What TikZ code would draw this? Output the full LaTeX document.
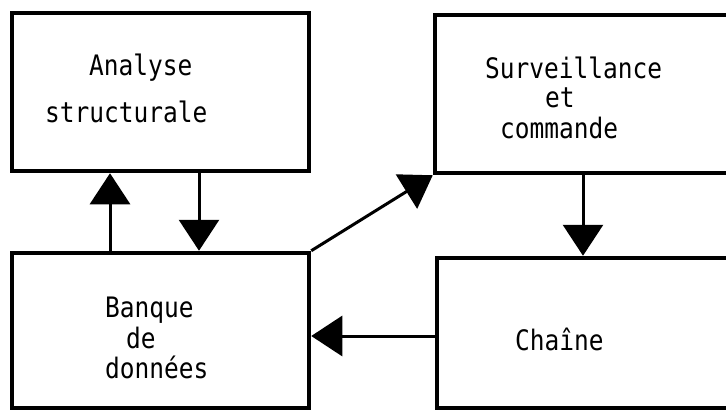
\documentclass[tikz,border=0pt]{standalone}
\usepackage{fontspec}
\setmonofont{DejaVu Sans Mono}
\usetikzlibrary{arrows.meta}
\begin{document}
\begin{tikzpicture}[x=1pt,y=-1pt,
  box/.style={draw,line width=4.5pt,minimum width=#1,inner sep=0pt},
  lbl/.style={anchor=base west,inner sep=0pt,font=\ttfamily\fontsize{24.5}{28}\selectfont},
  conn/.style={line width=3pt,-{Triangle[length=31pt,width=40pt]}}]
\useasboundingbox (0,0) rectangle (726,412);
\node[box=297pt,minimum height=158pt] (A) at (160.5,92) {};
\node[box=297pt,minimum height=155pt] (B) at (160.5,330.5) {};
\node[box=325pt,minimum height=158pt] (S) at (597.5,94) {};
\node[box=323pt,minimum height=150pt] (C) at (598.5,333) {};
\node[lbl] (t1) at (89,76) {\scalebox{1}[1.15]{Analyse}};
\node[lbl] (t2) at (45,122) {\scalebox{1}[1.15]{structurale}};
\node[lbl] (t3) at (485,78) {\scalebox{1}[1.15]{Surveillance}};
\node[lbl] (t4) at (545,107) {\scalebox{1}[1.15]{et}};
\node[lbl] (t5) at (500,138) {\scalebox{1}[1.15]{commande}};
\node[lbl] (t6) at (105,317) {\scalebox{1}[1.15]{Banque}};
\node[lbl] (t7) at (126,348) {\scalebox{1}[1.15]{de}};
\node[lbl] (t8) at (105,378) {\scalebox{1}[1.15]{données}};
\node[lbl] (t9) at (515,350) {\scalebox{1}[1.15]{Chaîne}};
\coordinate (u1) at (110,0);
\coordinate (d1) at (199,0);
\coordinate (d2) at (583,0);
\coordinate (l1) at (0,336);
\draw[conn] (B.north -| u1) -- (A.south -| u1);
\draw[conn] (A.south -| d1) -- (B.north -| d1);
\draw[conn] (B.north east) -- (S.south west);
\draw[conn] (S.south -| d2) -- (C.north -| d2);
\draw[conn] (C.west |- l1) -- (B.east |- l1);
\end{tikzpicture}
\end{document}
